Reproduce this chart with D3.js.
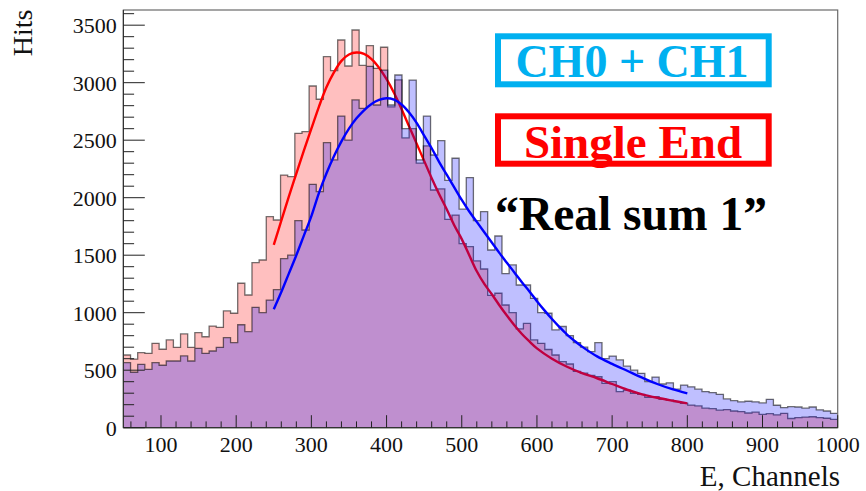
<!DOCTYPE html>
<html><head><meta charset="utf-8">
<script src="https://cdn.jsdelivr.net/npm/d3@7"></script>
<style>body{margin:0;background:#fff} svg{display:block}</style>
</head><body>
<svg id="c" width="866" height="491"></svg>
<script>
// ---- data ----
const binStart = 50;          // lower edge of first bin
const binWidth = 9.5;         // channels per bin
const singleEnd = [632,597,652,647,734,682,763,699,815,699,
  826,791,884,873,1015,995,1256,1154,1435,1458,
  1835,1806,2197,2183,2560,2574,2971,2856,3226,3105,
  3371,3145,3458,3150,3322,3125,3308,2790,3024,2520,
  2600,2300,2450,2067,2076,1811,1849,1600,1574,1450,
  1380,1150,1169,1067,1000,860,907,763,734,680,
  632,574,554,490,475,455,443,386,400,313,
  327,298,290,264,270,246,240,226,212,197,
  189,170,165,152,158,145,140,128,135,115,
  122,112,125,80,88,92,95,88,82,72];
const ch0ch1 = [565,482,551,508,565,543,580,580,624,580,
  690,647,667,699,783,739,895,835,1047,1000,
  1110,1200,1470,1500,1800,1719,2116,2052,2478,2328,
  2710,2501,2850,2777,3142,2806,3110,2806,3067,2600,
  3023,2328,2710,2371,2496,2150,2343,1900,2175,1800,
  1878,1545,1667,1340,1415,1241,1241,1125,1000,995,
  850,880,800,740,700,661,739,600,623,589,
  535,500,473,400,440,380,390,335,371,355,
  335,314,305,290,250,235,225,230,225,215,
  247,195,175,183,180,170,180,155,145,125];
const redFitX = [250,260,270,280,290,300,310,320,330,340,350,360,370,380,390,400,410,420,430,440,450,460,470,480,490,500,510,520,530,540,550,560,570,580,590,600,620,640,660,680,700,720,740,760,780,800];
const redFitY = [1590,1800,2010,2210,2410,2600,2790,2960,3090,3190,3245,3262,3250,3205,3130,3030,2910,2770,2620,2470,2320,2170,2030,1900,1760,1640,1500,1360,1250,1160,1065,975,890,815,750,690,600,530,475,430,380,330,290,260,235,212];
const blueFitX = [250,260,270,280,290,300,310,320,330,340,350,360,370,380,390,400,410,420,430,440,450,460,470,480,490,500,510,520,530,540,550,560,570,580,590,600,610,620,630,640,650,660,680,700,720,740,760,780,800];
const blueFitY = [1030,1180,1340,1500,1670,1840,2040,2210,2360,2490,2600,2690,2760,2815,2850,2864,2852,2810,2740,2650,2540,2430,2310,2200,2090,1980,1880,1790,1700,1610,1520,1435,1350,1265,1185,1100,1020,945,875,810,755,705,620,555,495,435,380,335,299];
const yTickLabels = [0,500,1000,1500,2000,2500,3000,3500];
const xTickLabels = [100,200,300,400,500,600,700,800,900,1000];
const legendTexts = ["CH0 + CH1", "Single End", "\u201cReal sum 1\u201d"];

// ---- layout ----
const L = 123.4, R = 837.7, T = 10, B = 427.7;
const svg = d3.select("#c");
const x = d3.scaleLinear().domain([50, 1000]).range([L, R]);
const y = d3.scaleLinear().domain([0, 3632]).range([B, T]);

svg.append("defs").append("clipPath").attr("id","plot")
  .append("rect").attr("x",L).attr("y",T).attr("width",R-L).attr("height",B-T);

const g = svg.append("g").attr("clip-path","url(#plot)");

function histPts(vals){
  const p = vals.map((v,i)=>[binStart + i*binWidth, v]);
  p.push([binStart + vals.length*binWidth, vals[vals.length-1]]);
  return p;
}
const area = d3.area().curve(d3.curveStepAfter).x(d=>x(d[0])).y0(y(0)).y1(d=>y(d[1]));
const line = d3.line().curve(d3.curveStepAfter).x(d=>x(d[0])).y(d=>y(d[1]));
const fitLine = d3.line().curve(d3.curveCatmullRom).x(d=>x(d[0])).y(d=>y(d[1]));

function drawHist(vals, col){
  const p = histPts(vals);
  g.append("path").attr("d", area(p)).attr("fill", col).attr("fill-opacity", 0.25);
  g.append("path").attr("d", line(p)).attr("fill","none")
    .attr("stroke","#000").attr("stroke-opacity",0.55).attr("stroke-width",1.3);
}
drawHist(singleEnd, "#ff0000");
g.append("path").attr("d", fitLine(redFitX.map((v,i)=>[v, redFitY[i]])))
  .attr("fill","none").attr("stroke","#ff0000").attr("stroke-width",2.4);
drawHist(ch0ch1, "#0000ff");
g.append("path").attr("d", fitLine(blueFitX.map((v,i)=>[v, blueFitY[i]])))
  .attr("fill","none").attr("stroke","#0000ff").attr("stroke-width",2.4);

// ---- frame & axes ----
svg.append("rect").attr("x",L).attr("y",T).attr("width",R-L).attr("height",B-T)
  .attr("fill","none").attr("stroke","#6a6a6a").attr("stroke-width",1.2);
svg.append("line").attr("x1",L).attr("x2",L).attr("y1",T).attr("y2",B).attr("stroke","#333").attr("stroke-width",1.2);
svg.append("line").attr("x1",L).attr("x2",R).attr("y1",B).attr("y2",B).attr("stroke","#333").attr("stroke-width",1.2);

const axg = svg.append("g").attr("stroke","#222").attr("stroke-width",1);
d3.range(0, 3601, 100).forEach(v=>{
  const major = v % 500 === 0;
  axg.append("line").attr("x1",L).attr("x2",L + (major?21.4:10.7)).attr("y1",y(v)).attr("y2",y(v));
});
d3.range(60, 1001, 20).forEach(v=>{
  const major = v % 100 === 0;
  axg.append("line").attr("x1",x(v)).attr("x2",x(v)).attr("y1",B).attr("y2",B - (major?12.5:6.3));
});

const font = "'Liberation Serif', 'Times New Roman', serif";
svg.append("g").selectAll("text").data(yTickLabels).join("text")
  .attr("x", 116.7).attr("y", d=>y(d)+8).attr("text-anchor","end")
  .attr("font-family",font).attr("font-size",22).attr("fill","#111").text(d=>d);
svg.append("g").selectAll("text").data(xTickLabels).join("text")
  .attr("x", d=>x(d)).attr("y", 451.5).attr("text-anchor","middle")
  .attr("font-family",font).attr("font-size",22).attr("fill","#111").text(d=>d);

svg.append("text").attr("transform","translate(31.5,9.5) rotate(-90)")
  .attr("text-anchor","end").attr("font-family",font).attr("font-size",28).attr("fill","#111").text("Hits");
svg.append("text").attr("x",840).attr("y",486).attr("text-anchor","end")
  .attr("font-family",font).attr("font-size",29).attr("fill","#111").text("E, Channels");

// ---- legend boxes ----
svg.append("rect").attr("x",498).attr("y",36.3).attr("width",270.7).attr("height",48)
  .attr("fill","#fff").attr("stroke","#00b0f0").attr("stroke-width",6);
svg.append("text").attr("x",632).attr("y",76.7).attr("text-anchor","middle")
  .attr("font-family",font).attr("font-weight","bold").attr("font-size",46).attr("fill","#00b0f0").text(legendTexts[0]);
svg.append("rect").attr("x",498).attr("y",116.3).attr("width",270.7).attr("height",47.4)
  .attr("fill","#fff").attr("stroke","#ff0000").attr("stroke-width",6);
svg.append("text").attr("x",633).attr("y",158).attr("text-anchor","middle")
  .attr("font-family",font).attr("font-weight","bold").attr("font-size",47).attr("fill","#ff0000").text(legendTexts[1]);
svg.append("text").attr("x",631).attr("y",229.5).attr("text-anchor","middle")
  .attr("font-family",font).attr("font-weight","bold").attr("font-size",47.5).attr("fill","#000").text(legendTexts[2]);
</script>
</body></html>
